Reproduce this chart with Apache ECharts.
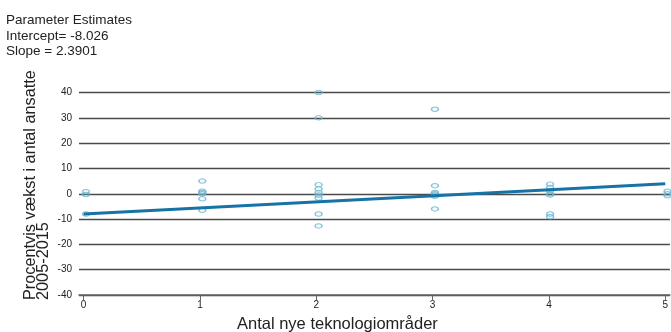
<!DOCTYPE html>
<html>
<head>
<meta charset="utf-8">
<script src="https://cdn.jsdelivr.net/npm/echarts@6/dist/echarts.min.js"></script>
<style>
html,body{margin:0;padding:0;background:#fff;}
#chart{width:671px;height:332px;}
</style>
</head>
<body>
<div id="chart"></div>
<script>
// Data
const intercept = -8.026;
const slope = 2.3901;
const xTicks = [0, 1, 2, 3, 4, 5];
const yTicks = [-40, -30, -20, -10, 0, 10, 20, 30, 40];
const pointX = [
  0.02, 0.02, 0.02,
  1.02, 1.02, 1.02, 1.02, 1.02, 1.02,
  2.02, 2.02, 2.02, 2.02, 2.02, 2.02, 2.02, 2.02, 2.02,
  3.02, 3.02, 3.02, 3.02, 3.02, 3.02, 3.02,
  4.01, 4.01, 4.01, 4.01, 4.01, 4.01, 4.01,
  5.02, 5.02, 5.02
];
const pointY = [
  0.8, -0.3, -8,
  5, 1, 0, 0.5, -2, -6.5,
  40, 30, 3.6, 1.9, 0.5, -0.5, -1.7, -8, -12.7,
  33.4, 3.2, 0.5, 0, -0.5, -1, -6,
  3.8, 2.5, 1.2, 0, -0.5, -8, -9.1,
  1, 0, -0.8
];
const fitX = [0, 5];

const FONT = '"Liberation Sans", Arial, Helvetica, sans-serif';
const chart = echarts.init(document.getElementById('chart'));
const scatterData = pointX.map((x, i) => [x, pointY[i]]);
const fitData = fitX.map(x => [x, intercept + slope * x]);

chart.setOption({
  animation: false,
  backgroundColor: '#fff',
  grid: { left: 79, right: 1, top: 92.5, bottom: 37 },
  xAxis: {
    type: 'value',
    min: -0.04,
    max: 5.04,
    splitLine: { show: false },
    axisLine: { show: true, onZero: false, lineStyle: { color: '#666', width: 1.5 } },
    axisTick: { show: true, customValues: xTicks, length: 5, lineStyle: { color: '#666' } },
    axisLabel: { customValues: xTicks, fontSize: 10, color: '#222', fontFamily: FONT, margin: 5 }
  },
  yAxis: {
    type: 'value',
    min: yTicks[0],
    max: yTicks[yTicks.length - 1],
    interval: 10,
    axisLine: { show: false },
    axisTick: { show: false },
    axisLabel: { fontSize: 10, color: '#222', fontFamily: FONT, margin: 7 },
    splitLine: { show: true, lineStyle: { color: '#4a4a4a', width: 1.3 } }
  },
  graphic: [
    {
      type: 'text', left: 6, top: 13,
      style: { text: 'Parameter Estimates\nIntercept= -8.026\nSlope = 2.3901', font: '13.5px ' + FONT, fill: '#222', lineHeight: 15.5 }
    },
    {
      type: 'text', x: 24, y: 300, rotation: Math.PI / 2,
      style: { text: 'Procentvis vækst i antal ansatte\n2005-2015', font: '16.3px ' + FONT, fill: '#222', align: 'left', verticalAlign: 'top', lineHeight: 13 }
    },
    {
      type: 'text', left: 237, top: 316,
      style: { text: 'Antal nye teknologiområder', font: '16.5px ' + FONT, fill: '#222' }
    }
  ],
  series: [
    {
      type: 'scatter',
      data: scatterData,
      symbol: 'circle',
      symbolSize: [7, 4.5],
      itemStyle: { color: 'rgba(108,180,207,0.08)', borderColor: '#6cb4cf', borderWidth: 1.2 },
      z: 3
    },
    {
      type: 'line',
      data: fitData,
      symbol: 'none',
      lineStyle: { color: '#1673a6', width: 3 },
      z: 4
    }
  ]
});
</script>
</body>
</html>
